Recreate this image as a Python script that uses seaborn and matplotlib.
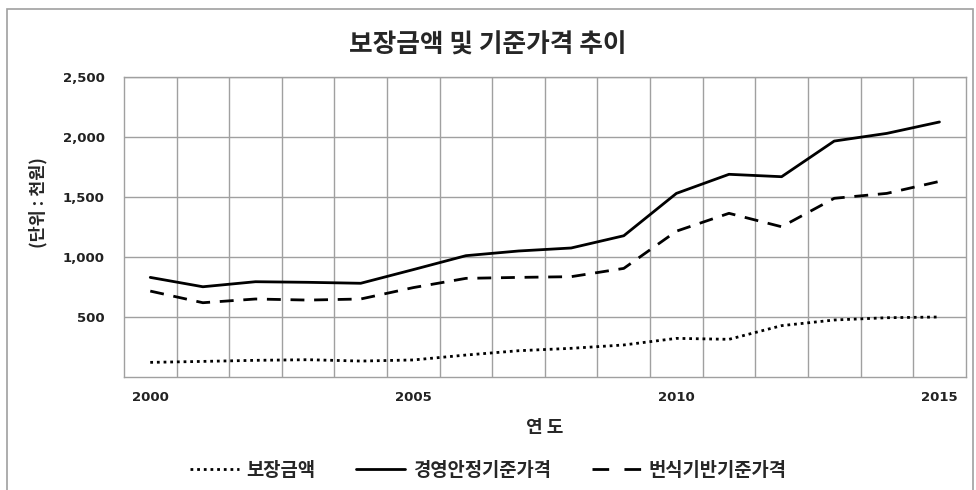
import pandas as pd
import seaborn as sns
import matplotlib.pyplot as plt
from matplotlib.lines import Line2D
from matplotlib.patches import Rectangle

# Data (unit: 천원)
years = list(range(2000, 2016))
guarantee = [122, 130, 139, 144, 133, 142, 183, 219, 239, 267, 322, 314, 428, 475, 494, 500]
mgmt_price = [830, 752, 794, 789, 781, 895, 1011, 1050, 1075, 1177, 1530, 1689, 1669, 1966, 2030, 2125]
breed_price = [716, 619, 650, 641, 650, 745, 822, 830, 836, 905, 1215, 1364, 1252, 1489, 1530, 1630]
series_names = ['보장금액', '경영안정기준가격', '번식기반기준가격']
year_ticks = [2000, 2005, 2010, 2015]
y_ticks = [500, 1000, 1500, 2000, 2500]

df = pd.DataFrame({'연도': years,
                   series_names[0]: guarantee,
                   series_names[1]: mgmt_price,
                   series_names[2]: breed_price})
df_long = df.melt(id_vars='연도', var_name='구분', value_name='값')

sns.set_style('white')
plt.rcParams['font.family'] = ['Noto Sans CJK KR', 'DejaVu Sans']

fig = plt.figure(figsize=(9.76, 4.9), dpi=100)
ax = fig.add_axes([0.127, 0.2306, 0.8625, 0.6123])

dash_styles = {series_names[0]: (0, (1, 1.4)),
               series_names[1]: '-',
               series_names[2]: (0, (5, 3.5))}

for name in series_names:
    sub = df_long[df_long['구분'] == name]
    sns.lineplot(data=sub, x='연도', y='값', ax=ax, color='black',
                 linewidth=2, linestyle=dash_styles[name], legend=False)

# category-style axis: gridlines between years
ax.set_xlim(1999.5, 2015.5)
ax.set_ylim(0, 2500)
ax.set_xticks(year_ticks)
ax.set_xticks([y + 0.5 for y in years[:-1]], minor=True)
ax.set_yticks(y_ticks)
ax.set_yticklabels([f'{v:,}' for v in y_ticks])
ax.grid(False)
ax.grid(True, which='minor', axis='x', color='#a0a0a0', linewidth=1)
ax.grid(True, which='major', axis='y', color='#a0a0a0', linewidth=1)
ax.tick_params(axis='both', which='both', length=0)
ax.tick_params(axis='x', pad=10)
ax.tick_params(axis='y', pad=14)
for lab in ax.get_xticklabels() + ax.get_yticklabels():
    lab.set_fontfamily('DejaVu Sans')
    lab.set_fontweight('bold')
    lab.set_fontsize(9.5)
    lab.set_color('#222222')
for sp in ax.spines.values():
    sp.set_color('#a0a0a0')
    sp.set_linewidth(1)

ax.set_xlabel('연 도', fontsize=13, fontweight='bold', labelpad=10)
ax.set_ylabel('(단위 : 천원)', fontsize=12.5, fontweight='bold')
ax.yaxis.set_label_coords(-0.091, 0.58)
fig.suptitle('보장금액 및 기준가격 추이', fontsize=18.5, fontweight='bold', x=0.5, y=0.935)

# legend handles (dash tuned so the short handle shows two whole dashes)
handles = [Line2D([0], [0], color='black', lw=2, linestyle=dash_styles[series_names[0]]),
           Line2D([0], [0], color='black', lw=2, linestyle='-'),
           Line2D([0], [0], color='black', lw=2, linestyle=(0, (6, 5.5)))]
leg = fig.legend(handles, series_names, loc='center', bbox_to_anchor=(0.5, 0.04),
                 ncol=3, frameon=False, handlelength=2.6, columnspacing=2.2,
                 handletextpad=0.4, prop={'weight': 'bold', 'size': 13.5})

# outer chart frame
fig.patches.append(Rectangle((0.007, -0.05), 0.99, 1.032, transform=fig.transFigure,
                             fill=False, edgecolor='#a0a0a0', linewidth=1.2))

fig.savefig('out.png', dpi=100)
